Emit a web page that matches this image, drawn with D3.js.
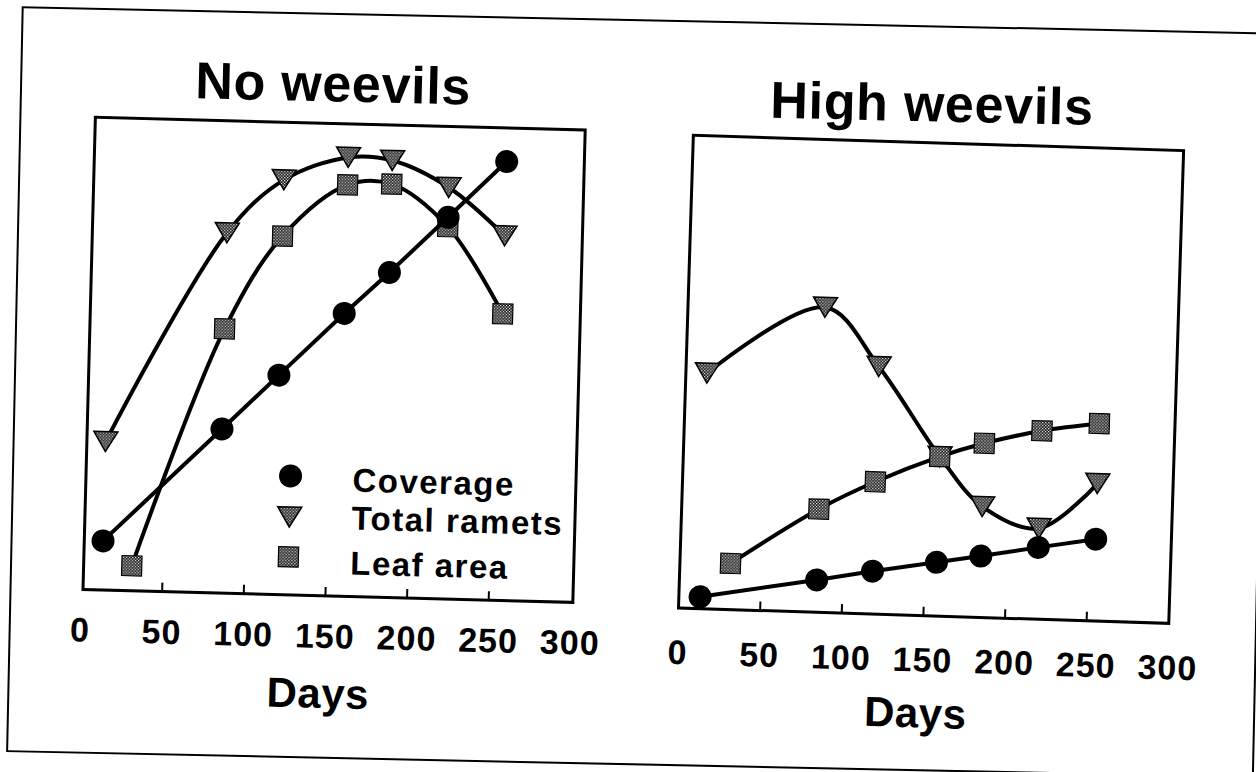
<!DOCTYPE html>
<html><head><meta charset="utf-8">
<script src="https://cdn.jsdelivr.net/npm/d3@7"></script>
<style>body{margin:0;background:#fff}svg{display:block}</style>
</head><body>
<svg id="chart" width="1256" height="772"></svg>
<script>
// ---- data (days; relative units 0-100, y axis unlabeled) ----
const days = [13, 84, 118, 157, 184, 219, 254];
const leafDays = [31, 84, 118, 157, 184, 219, 254];
const xTicks = [0, 50, 100, 150, 200, 250, 300];
const innerTicks = [50, 100, 150, 200, 250];
const seriesNames = ["Coverage", "Total ramets", "Leaf area"];
const panelTitles = ["No weevils", "High weevils"];
const axisLabel = "Days";

const coverageNo = [10.4, 34.7, 46.4, 59.8, 68.7, 80.7, 92.8];
const rametsNo   = [31.4, 76.2, 87.7, 92.8, 92.4, 87.0, 77.1];
const leafNo     = [5.3, 55.9, 75.8, 87.0, 87.4, 78.7, 60.6];

const coverageHigh = [2.5, 6.8, 9.0, 11.3, 12.9, 15.1, 17.2];
const rametsHigh   = [49.5, 64.1, 52.0, 33.5, 23.3, 19.1, 28.9];
const leafHigh     = [9.7, 21.7, 27.8, 33.5, 36.6, 39.6, 41.5];

// ---- layout ----
const svg = d3.select("#chart");
const FONT = "'Liberation Sans', Arial, Helvetica, sans-serif";

const defs = svg.append("defs");
const pat = defs.append("pattern").attr("id", "dots")
  .attr("patternUnits", "userSpaceOnUse").attr("width", 3).attr("height", 3);
pat.append("rect").attr("width", 3).attr("height", 3).attr("fill", "#000");
pat.append("rect").attr("x", 0).attr("y", 0).attr("width", 1.3).attr("height", 1.3).attr("fill", "#fff");
pat.append("rect").attr("x", 1.5).attr("y", 1.5).attr("width", 1.3).attr("height", 1.3).attr("fill", "#fff");

// outer (scanned slide) frame
svg.append("g").attr("transform", "translate(22.7,7.3) rotate(1.2)")
  .append("rect").attr("width", 1246).attr("height", 744)
  .attr("fill", "none").attr("stroke", "#000").attr("stroke-width", 2);

const panels = [
  { title: panelTitles[0], cov: coverageNo, ram: rametsNo, leaf: leafNo,
    ox: 80.5, oy: 589.5, angle: 1.5, yPx: 473, frameL: 2.5, frameR: 492.5, frameH: 472.5,
    tx: 195, ty: 98.3, tickY: 52, legend: true },
  { title: panelTitles[1], cov: coverageHigh, ram: rametsHigh, leaf: leafHigh,
    ox: 678.5, oy: 608, angle: 1.8, yPx: 476, frameL: 0, frameR: 490.5, frameH: 473,
    tx: 770, ty: 117.7, tickY: 56, legend: false }
];

const triPath = "M-12,-10L12,-10L0,10Z";

function drawMarker(sel, type) {
  if (type === "circle") {
    sel.append("circle").attr("r", 11.5).attr("fill", "#000");
  } else if (type === "tri") {
    sel.append("path").attr("d", triPath).attr("fill", "url(#dots)")
      .attr("stroke", "#000").attr("stroke-width", 1.5).attr("stroke-linejoin", "miter");
  } else {
    sel.append("rect").attr("x", -10).attr("y", -10).attr("width", 20).attr("height", 20)
      .attr("fill", "url(#dots)").attr("stroke", "#000").attr("stroke-width", 1.2);
  }
}

panels.forEach(p => {
  // title
  svg.append("text").attr("x", p.tx).attr("y", p.ty)
    .attr("transform", `rotate(1.3,${p.tx},${p.ty})`)
    .attr("font-family", FONT).attr("font-weight", "bold").attr("font-size", 52)
    .attr("letter-spacing", 0.7).attr("fill", "#000").text(p.title);

  const g = svg.append("g").attr("transform", `translate(${p.ox},${p.oy}) rotate(${p.angle})`);
  const x = d3.scaleLinear().domain([0, 300]).range([0, 490]);
  const y = d3.scaleLinear().domain([0, 100]).range([0, -p.yPx]);

  // frame
  g.append("rect").attr("x", p.frameL).attr("y", -p.frameH)
    .attr("width", p.frameR - p.frameL).attr("height", p.frameH)
    .attr("fill", "none").attr("stroke", "#000").attr("stroke-width", 3);

  // inner ticks
  g.selectAll(".tk").data(innerTicks).join("line")
    .attr("x1", d => x(d)).attr("x2", d => x(d)).attr("y1", 0).attr("y2", -9)
    .attr("stroke", "#000").attr("stroke-width", 2);

  // tick labels
  g.selectAll(".tl").data(xTicks).join("text")
    .attr("x", d => x(d) + 0.5).attr("y", p.tickY).attr("text-anchor", "middle")
    .attr("font-family", FONT).attr("font-weight", "bold").attr("font-size", 34)
    .attr("letter-spacing", 1).text(d => d);

  // axis title
  g.append("text").attr("x", 240).attr("y", 112).attr("text-anchor", "middle")
    .attr("font-family", FONT).attr("font-weight", "bold").attr("font-size", 42)
    .attr("letter-spacing", 0.5).text(axisLabel);

  const lineSmooth = d3.line().x(d => x(d[0])).y(d => y(d[1])).curve(d3.curveCatmullRom.alpha(0.5));
  const lineStraight = d3.line().x(d => x(d[0])).y(d => y(d[1]));

  const ram = days.map((d, i) => [d, p.ram[i]]);
  const leaf = leafDays.map((d, i) => [d, p.leaf[i]]);
  const cov = days.map((d, i) => [d, p.cov[i]]);

  const drawSeries = (pts, gen, type) => {
    g.append("path").attr("d", gen(pts)).attr("fill", "none")
      .attr("stroke", "#000").attr("stroke-width", 4).attr("stroke-linejoin", "round");
    pts.forEach(pt => {
      const m = g.append("g").attr("transform", `translate(${x(pt[0])},${y(pt[1])})`);
      drawMarker(m, type);
    });
  };
  drawSeries(ram, lineSmooth, "tri");
  drawSeries(leaf, lineSmooth, "sq");
  drawSeries(cov, lineStraight, "circle");

  if (p.legend) {
    const types = ["circle", "tri", "sq"];
    const markerY = [-119, -78, -38];
    const textY = [-105, -67, -22];
    seriesNames.forEach((name, i) => {
      const m = g.append("g").attr("transform", `translate(207,${markerY[i]})`);
      drawMarker(m, types[i]);
      g.append("text").attr("x", 269).attr("y", textY[i])
        .attr("font-family", FONT).attr("font-weight", "bold").attr("font-size", 33)
        .attr("letter-spacing", 1.5).text(name);
    });
  }
});
</script>
</body></html>
